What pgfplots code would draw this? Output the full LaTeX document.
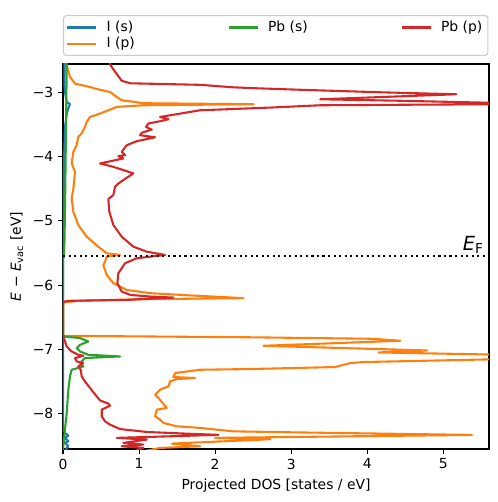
\documentclass[border=0pt]{standalone}
\usepackage{fontspec}
\setmainfont{DejaVu Sans}
\usepackage{pgfplots}
\pgfplotsset{compat=1.18}
\definecolor{c0}{HTML}{1F77B4}
\definecolor{c1}{HTML}{FF7F0E}
\definecolor{c2}{HTML}{2CA02C}
\definecolor{c3}{HTML}{D62728}
\definecolor{legframe}{gray}{0.8}
\begin{document}
\begin{tikzpicture}
\begin{axis}[
  scale only axis, width=306.72pt, height=277.2pt,
  xmin=0, xmax=5.6, ymin=-8.55, ymax=-2.56,
  axis line style={line width=0.8pt},
  tick align=outside, major tick length=3.5pt,
  major tick style={black, line width=0.8pt},
  xtick pos=bottom, ytick pos=left,
  xtick={0,1,2,3,4,5}, xticklabels={0,1,2,3,4,5},
  ytick={-8,-7,-6,-5,-4,-3}, yticklabels={−8,−7,−6,−5,−4,−3},
  tick label style={font=\fontsize{10}{12}\selectfont},
  label style={font=\fontsize{10}{12}\selectfont},
  xlabel={Projected DOS [states / eV]},
  ylabel={\textit{E} − \textit{E}\textsubscript{vac} [eV]},
  legend columns=3, legend cell align=left,
  legend style={at={(0,1)}, anchor=south west, yshift=5.76pt,
    draw=legframe, rounded corners=2pt, line width=0.8pt,
    font=\fontsize{10}{12}\selectfont, inner xsep=2pt, inner ysep=2pt,
    row sep=-1.5pt,
    /tikz/every odd column/.append style={column sep=4.6pt},
    /tikz/every even column/.append style={column sep=65pt}},
  legend image code/.code={\draw[#1, line width=1.5pt] (0pt,0pt) -- (20.9pt,0pt);},
  every axis plot/.append style={line width=1.5pt, line join=round},
]
% I (s)
\addplot[c0, forget plot] coordinates {
(0.02,-2.45) (0.02,-2.90) (0.026,-3.00) (0.049,-3.155) (0.092,-3.18) (0.07,-3.25)
(0.049,-3.33) (0.026,-3.54) (0.015,-4.0) (0.01,-4.5) (0.005,-5.0) (0,-5.3)
(0,-8.25) (0.026,-8.30) (0.070,-8.342) (0.026,-8.377) (0.070,-8.430) (0.026,-8.455)
(0.070,-8.508) (0.049,-8.533) (0.03,-8.6)
};
% I (p)
\addplot[c1, forget plot] coordinates {
(0.03,-2.45) (0.049,-2.581) (0.092,-2.762) (0.158,-2.865) (0.355,-2.918) (0.421,-2.943)
(0.618,-2.995) (0.707,-3.073) (0.772,-3.124) (1.057,-3.170) (2.504,-3.186) (1.057,-3.202)
(0.707,-3.228) (0.487,-3.331) (0.355,-3.384) (0.312,-3.461) (0.289,-3.539) (0.246,-3.641)
(0.201,-3.694) (0.180,-3.823) (0.136,-3.927) (0.114,-4.107) (0.158,-4.238) (0.136,-4.495)
(0.114,-4.651) (0.136,-4.859) (0.201,-5.065) (0.312,-5.247) (0.464,-5.402) (0.575,-5.505)
(0.750,-5.531) (0.575,-5.557) (0.553,-5.635) (0.530,-5.686) (0.575,-5.842) (0.662,-5.970)
(0.838,-6.075) (1.145,-6.126) (1.714,-6.163) (2.372,-6.203) (1.0,-6.22) (0.2,-6.245)
(0,-6.27) (0,-6.78) (0.02,-6.789) (2.461,-6.812) (4.062,-6.835) (4.434,-6.866)
(2.636,-6.944) (4.786,-7.017) (4.149,-7.048) (5.8,-7.084) (6.5,-7.11) (5.8,-7.151)
(3.951,-7.197) (3.776,-7.213) (3.579,-7.275) (2.461,-7.306) (1.803,-7.317) (1.474,-7.368)
(1.451,-7.430) (1.737,-7.446) (1.496,-7.461) (1.408,-7.498) (1.386,-7.576) (1.276,-7.627)
(1.211,-7.705) (1.254,-7.756) (1.364,-7.911) (1.233,-7.938) (1.211,-8.042) (1.276,-8.093)
(1.320,-8.144) (1.496,-8.197) (1.803,-8.222) (2.237,-8.275) (2.987,-8.290) (5.378,-8.331)
(2.0,-8.377) (2.724,-8.398) (1.430,-8.466) (1.803,-8.508) (1.276,-8.533) (1.0,-8.6)
};
% Pb (s)
\addplot[c2, forget plot] coordinates {
(0.04,-2.45) (0.049,-2.58) (0.04,-3.5) (0.03,-4.5) (0.02,-5.3) (0.01,-5.56) (0,-5.6)
(0,-6.79) (0.004,-6.80) (0.224,-6.824) (0.333,-6.877) (0.224,-6.929) (0.180,-6.980)
(0.224,-7.033) (0.333,-7.084) (0.75,-7.110) (0.289,-7.135) (0.224,-7.213) (0.267,-7.266)
(0.114,-7.317) (0.092,-7.421) (0.070,-7.627) (0.049,-7.989) (0.026,-8.248) (0.004,-8.508)
(0,-8.6)
};
% Pb (p)
\addplot[c3, forget plot] coordinates {
(0.59,-2.45) (0.618,-2.565) (0.671,-2.658) (0.772,-2.821) (0.882,-2.860) (1.803,-2.884)
(2.224,-2.922) (2.553,-2.938) (3.118,-2.961) (4.171,-3.000) (5.171,-3.031) (3.382,-3.109)
(4.434,-3.132) (5.618,-3.163) (6.5,-3.175) (5.618,-3.186) (3.382,-3.202) (2.724,-3.238)
(1.803,-3.280) (1.276,-3.384) (1.386,-3.419) (1.276,-3.450) (1.122,-3.486) (1.092,-3.540)
(1.167,-3.580) (1.036,-3.630) (1.013,-3.668) (1.211,-3.700) (0.970,-3.761) (0.838,-3.823)
(0.772,-3.927) (0.816,-3.978) (0.728,-3.995) (0.793,-4.030) (0.487,-4.107) (0.662,-4.160)
(0.925,-4.262) (0.728,-4.418) (0.684,-4.470) (0.662,-4.599) (0.596,-4.661) (0.609,-4.859)
(0.662,-5.065) (0.772,-5.247) (0.925,-5.402) (1.101,-5.480) (1.342,-5.531) (0.970,-5.582)
(0.816,-5.660) (0.728,-5.815) (0.714,-5.970) (0.772,-6.101) (0.882,-6.152) (1.145,-6.178)
(1.451,-6.194) (0.838,-6.230) (0.049,-6.245) (0,-6.27) (0,-6.78) (0.004,-6.800)
(0.049,-6.955) (0.114,-7.033) (0.201,-7.084) (0.267,-7.099) (0.158,-7.135) (0.180,-7.188)
(0.267,-7.213) (0.201,-7.266) (0.233,-7.317) (0.246,-7.421) (0.289,-7.498) (0.355,-7.601)
(0.443,-7.731) (0.487,-7.793) (0.596,-7.845) (0.618,-7.876) (0.509,-7.938) (0.509,-8.042)
(0.553,-8.120) (0.618,-8.171) (0.750,-8.240) (1.101,-8.285) (1.496,-8.305) (2.043,-8.330)
(0.707,-8.377) (1.101,-8.404) (0.793,-8.455) (1.057,-8.481) (0.772,-8.508) (1.057,-8.533)
(0.9,-8.6)
};
% Fermi level
\addplot[black, line width=1.5pt, dash pattern=on 1.5pt off 2.475pt, forget plot]
  coordinates {(0,-5.55) (5.6,-5.55)};
\node[anchor=south east, inner sep=1.5pt, font=\fontsize{14}{16}\selectfont]
  at (axis cs:5.56,-5.55) {\textit{E}\textsubscript{F}};
\addlegendimage{c0}\addlegendentry{I (s)}
\addlegendimage{c2}\addlegendentry{Pb (s)}
\addlegendimage{c3}\addlegendentry{Pb (p)}
\addlegendimage{c1}\addlegendentry{I (p)}
\end{axis}
\pgfresetboundingbox
\useasboundingbox ([shift={(-45.36pt,-38.16pt)}]current axis.south west)
  rectangle ([shift={(6.48pt,46.08pt)}]current axis.north east);
\end{tikzpicture}
\end{document}
